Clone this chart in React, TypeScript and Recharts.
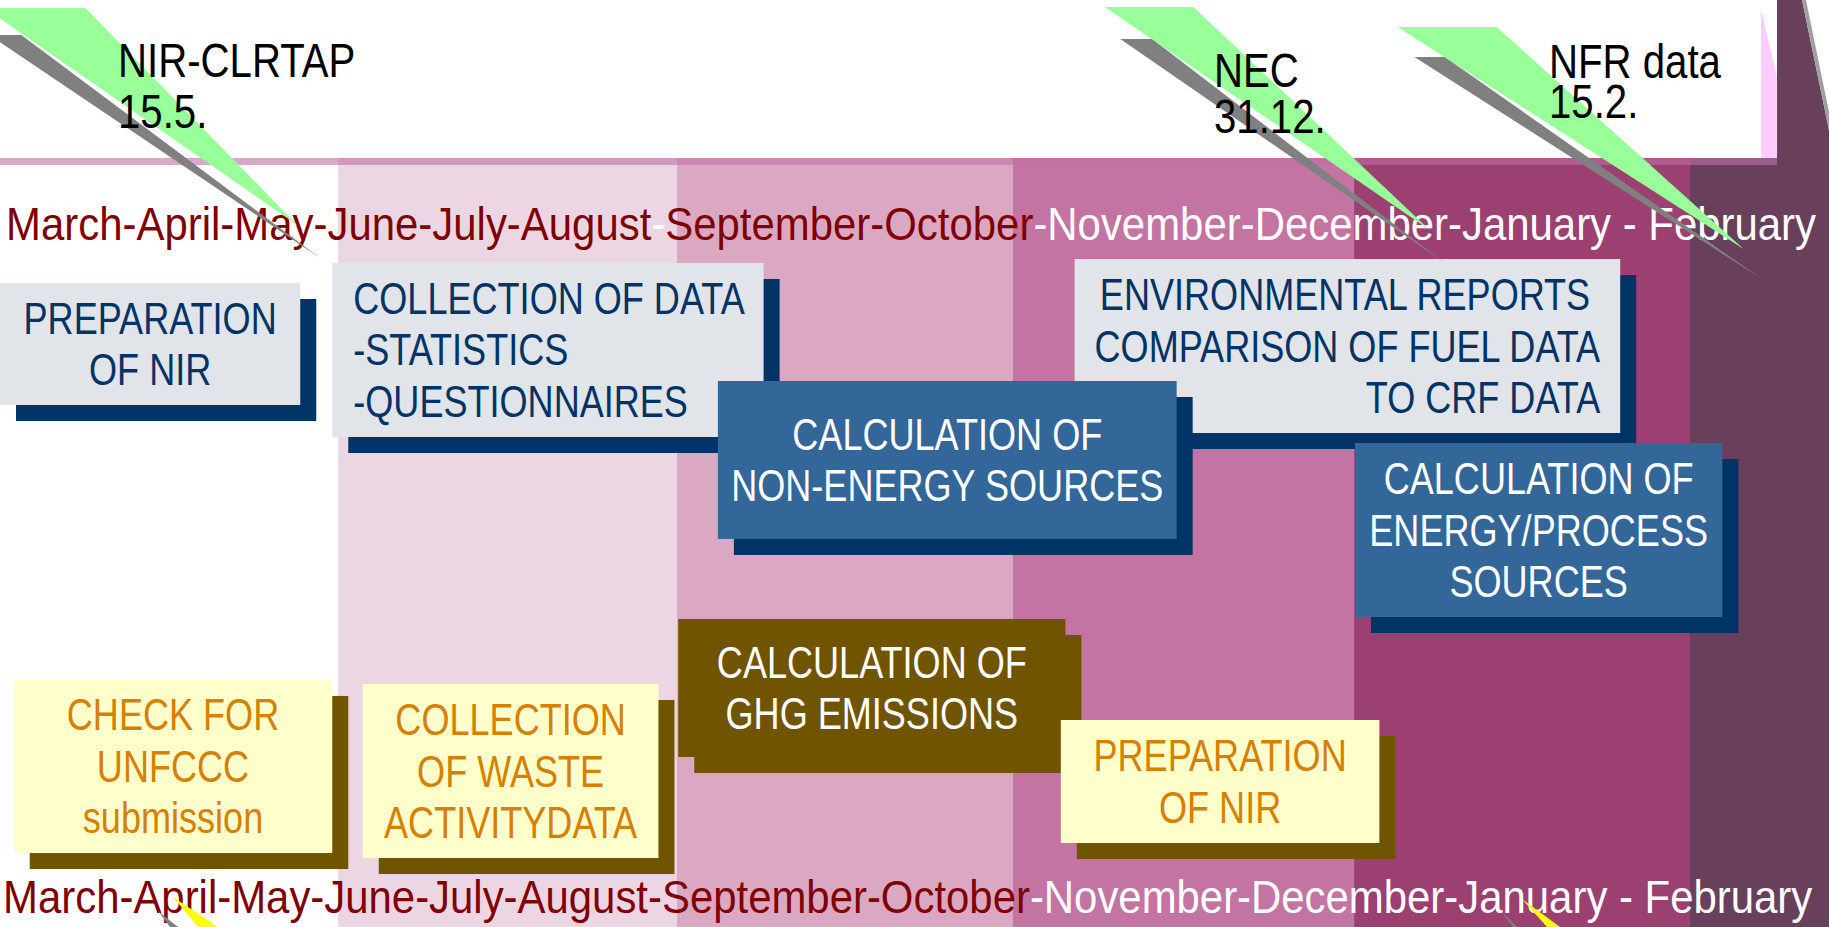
import { ComposedChart, XAxis, YAxis, ReferenceArea } from 'recharts';

// Timeline: x = months from 1 March (0) to end of February (12),
// y = vertical position in percent of the sheet (0 = top, 100 = bottom).

const periodStarts = [0, 2.218, 4.442, 6.646, 8.884, 11.088];
const periodEnds = [2.218, 4.442, 6.646, 8.884, 11.088, 12];
const periodColors = ['#FFFFFF', '#EDD6E3', '#DBA8C4', '#C474A2', '#9C4072', '#69405C'];

const monthsTop = [
  { text: 'March-April-May-June-July-August', tone: 'dark' },
  { text: '-', tone: 'light' },
  { text: 'September-October', tone: 'dark' },
  { text: '-November-December-January - February', tone: 'light' },
];
const monthsBottom = [
  { text: 'March-April-May-June-July-August-September-October', tone: 'dark' },
  { text: '-November-December-January - February', tone: 'light' },
];

const tasks = [
  { lines: ['PREPARATION', 'OF NIR'], kind: 'gray', align: 'middle', start: 0, end: 1.97, top: 30.53, bottom: 43.69 },
  { lines: ['COLLECTION OF DATA', '-STATISTICS', '-QUESTIONNAIRES'], kind: 'gray', align: 'start', start: 2.18, end: 5.01, top: 28.37, bottom: 47.14 },
  { lines: ['ENVIRONMENTAL REPORTS\u00A0', 'COMPARISON OF FUEL DATA', 'TO CRF DATA'], kind: 'gray', align: 'end', start: 7.05, end: 10.63, top: 27.94, bottom: 46.71 },
  { lines: ['CALCULATION OF', 'NON-ENERGY SOURCES'], kind: 'blue', align: 'middle', start: 4.71, end: 7.72, top: 41.1, bottom: 58.14 },
  { lines: ['CALCULATION OF', 'ENERGY/PROCESS', 'SOURCES'], kind: 'blue', align: 'middle', start: 8.89, end: 11.3, top: 47.79, bottom: 66.56 },
  { lines: ['CHECK FOR', 'UNFCCC', 'submission'], kind: 'yellow', align: 'middle', start: 0.09, end: 2.18, top: 73.35, bottom: 92.02 },
  { lines: ['COLLECTION', 'OF WASTE', 'ACTIVITYDATA'], kind: 'yellow', align: 'middle', start: 2.38, end: 4.32, top: 73.79, bottom: 92.56 },
  { lines: ['CALCULATION OF', 'GHG EMISSIONS'], kind: 'brown', align: 'middle', start: 4.45, end: 6.99, top: 66.77, bottom: 81.66 },
  { lines: ['PREPARATION', 'OF NIR'], kind: 'yellow', align: 'middle', start: 6.96, end: 9.05, top: 77.67, bottom: 90.94 },
];

const deadlines = [
  { lines: ['NIR-CLRTAP', '15.5.'], x: 0.774, y1: 8.31, y2: 13.81 },
  { lines: ['NEC', '31.12.'], x: 7.965, y1: 9.39, y2: 14.32 },
  { lines: ['NFR data', '15.2.'], x: 10.163, y1: 8.41, y2: 12.73 },
];

// callout pointers (shadow first, then the wedge)
const pointers = [
  { tone: 'shadow', pts: [[-0.07, 3.78], [0.14, 3.78], [2.1, 27.83]] },
  { tone: 'green', pts: [[-0.1, 0.86], [0.56, 0.86], [1.95, 24.27]] },
  { tone: 'shadow', pts: [[7.35, 4.21], [7.56, 4.21], [9.47, 28.26]] },
  { tone: 'green', pts: [[7.25, 0.76], [7.83, 0.76], [9.38, 24.81]] },
  { tone: 'shadow', pts: [[9.28, 6.15], [9.48, 6.15], [11.55, 29.99]] },
  { tone: 'green', pts: [[9.17, 2.91], [9.82, 2.91], [11.44, 26.86]] },
  { tone: 'shadow', pts: [[1.037, 98.27], [1.115, 100], [1.168, 100]] },
  { tone: 'yellow', pts: [[1.135, 96.76], [1.3, 100], [1.43, 100]] },
  { tone: 'shadow', pts: [[9.855, 98.38], [9.927, 100], [9.953, 100]] },
  { tone: 'yellow', pts: [[9.986, 96.98], [10.15, 100], [10.235, 100]] },
];

// top-right corner of the sheet
const corner = [
  { tone: 'plum', pts: [[11.659, 0], [11.823, 0], [12, 14.02], [12, 17.04], [11.659, 17.04]] },
  { tone: 'pink', pts: [[11.554, 1.08], [11.659, 8.31], [11.659, 17.04], [11.554, 17.04]] },
  { tone: 'line', pts: [[11.823, 0], [11.849, 0], [12, 12.08], [12, 14.02]] },
];

const FONT = "'Liberation Sans', Arial, sans-serif";
const NARROW = 0.82;

const toneColors: Record<string, string> = {
  dark: '#800000',
  light: '#FFFFFF',
  shadow: '#808080',
  green: '#99FF99',
  yellow: '#FFFF00',
  plum: '#69405C',
  pink: '#FFCCFF',
  line: '#A0A0A0',
};

const kindStyles: Record<string, { fill: string; shadow: string; text: string }> = {
  gray: { fill: '#E1E4E9', shadow: '#003366', text: '#003366' },
  blue: { fill: '#336699', shadow: '#003366', text: '#FFFFFF' },
  yellow: { fill: '#FFFFCC', shadow: '#705400', text: '#D68000' },
  brown: { fill: '#705400', shadow: '#705400', text: '#FFFFFF' },
};

// condensed text, like Arial Narrow
const NarrowText = ({ x, y, anchor = 'start', size, color, children }: any) => (
  <text
    transform={`translate(${x},${y}) scale(${NARROW},1)`}
    x={0}
    y={0}
    textAnchor={anchor}
    fontSize={size}
    fontFamily={FONT}
    fill={color}
  >
    {children}
  </text>
);

const polyShape = (pts: number[][]) => (props: any) => {
  const xs = pts.map((p) => p[0]);
  const ys = pts.map((p) => p[1]);
  const minX = Math.min(...xs), maxX = Math.max(...xs);
  const minY = Math.min(...ys), maxY = Math.max(...ys);
  const { x, y, width, height, fill } = props;
  const d = pts
    .map((p) => {
      const px = x + ((p[0] - minX) / (maxX - minX)) * width;
      const py = y + ((p[1] - minY) / (maxY - minY)) * height;
      return `${px},${py}`;
    })
    .join(' ');
  return <polygon points={d} fill={fill} />;
};

const polyArea = (p: { tone: string; pts: number[][] }, key: string) => {
  const xs = p.pts.map((q) => q[0]);
  const ys = p.pts.map((q) => q[1]);
  return (
    <ReferenceArea
      key={key}
      x1={Math.min(...xs)}
      x2={Math.max(...xs)}
      y1={Math.min(...ys)}
      y2={Math.max(...ys)}
      ifOverflow="visible"
      fill={toneColors[p.tone]}
      shape={polyShape(p.pts)}
    />
  );
};

const taskShape = (t: (typeof tasks)[number]) => (props: any) => {
  const { x, y, width, height } = props;
  const s = kindStyles[t.kind];
  const cy = y + height / 2;
  const n = t.lines.length;
  const tx = t.align === 'start' ? x + 21 : t.align === 'end' ? x + width - 20 : x + width / 2;
  return (
    <g>
      <rect x={x + 16} y={y + 16} width={width} height={height} fill={s.shadow} />
      <rect x={x} y={y} width={width} height={height} fill={s.fill} />
      {t.lines.map((line, i) => (
        <NarrowText key={i} x={tx} y={cy + (i - (n - 1) / 2) * 51.5 + 15.5} anchor={t.align} size={44} color={s.text}>
          {line}
        </NarrowText>
      ))}
    </g>
  );
};

const monthShape = (segs: { text: string; tone: string }[]) => (props: any) => {
  const { x, y, width, height } = props;
  return (
    <text x={x} y={y + height} textLength={width} lengthAdjust="spacingAndGlyphs" fontSize={47} fontFamily={FONT}>
      {segs.map((s, i) => (
        <tspan key={i} fill={toneColors[s.tone]}>
          {s.text}
        </tspan>
      ))}
    </text>
  );
};

const deadlineShape = (d: (typeof deadlines)[number]) => (props: any) => {
  const { x, y, height } = props;
  return (
    <g>
      <NarrowText x={x} y={y} size={49} color="#000000">{d.lines[0]}</NarrowText>
      <NarrowText x={x} y={y + height} size={49} color="#000000">{d.lines[1]}</NarrowText>
    </g>
  );
};

const App = () => {
  return (
    <div style={{ width: 1829, height: 927, background: '#FFFFFF' }}>
      <style>{'html,body{margin:0;overflow:hidden;}'}</style>
      <ComposedChart width={1829} height={927} data={[{ m: 0 }, { m: 12 }]} margin={{ top: 0, right: 0, bottom: 0, left: 0 }}>
        <XAxis dataKey="m" type="number" domain={[0, 12]} hide allowDataOverflow />
        <YAxis type="number" domain={[0, 100]} reversed hide allowDataOverflow />

        {periodStarts.map((s, i) => (
          <ReferenceArea key={`p${i}`} x1={s} x2={periodEnds[i]} y1={17.04} y2={100} fill={periodColors[i]} fillOpacity={1} stroke="none" />
        ))}
        {corner.map((c, i) => polyArea(c, `c${i}`))}
        <ReferenceArea x1={0} x2={11.659} y1={17.04} y2={17.8} fill="rgb(192,112,165)" fillOpacity={0.6} stroke="none" />

        <ReferenceArea x1={0.04} x2={11.915} y1={22.22} y2={25.89} shape={monthShape(monthsTop)} />
        <ReferenceArea x1={0.02} x2={11.89} y1={94.71} y2={98.49} shape={monthShape(monthsBottom)} />

        {tasks.map((t, i) => (
          <ReferenceArea key={`t${i}`} x1={t.start} x2={t.end} y1={t.top} y2={t.bottom} shape={taskShape(t)} />
        ))}

        {pointers.map((p, i) => polyArea(p, `w${i}`))}

        {deadlines.map((d, i) => (
          <ReferenceArea key={`d${i}`} x1={d.x} x2={d.x + 1} y1={d.y1} y2={d.y2} shape={deadlineShape(d)} />
        ))}
      </ComposedChart>
    </div>
  );
};

export default App;
